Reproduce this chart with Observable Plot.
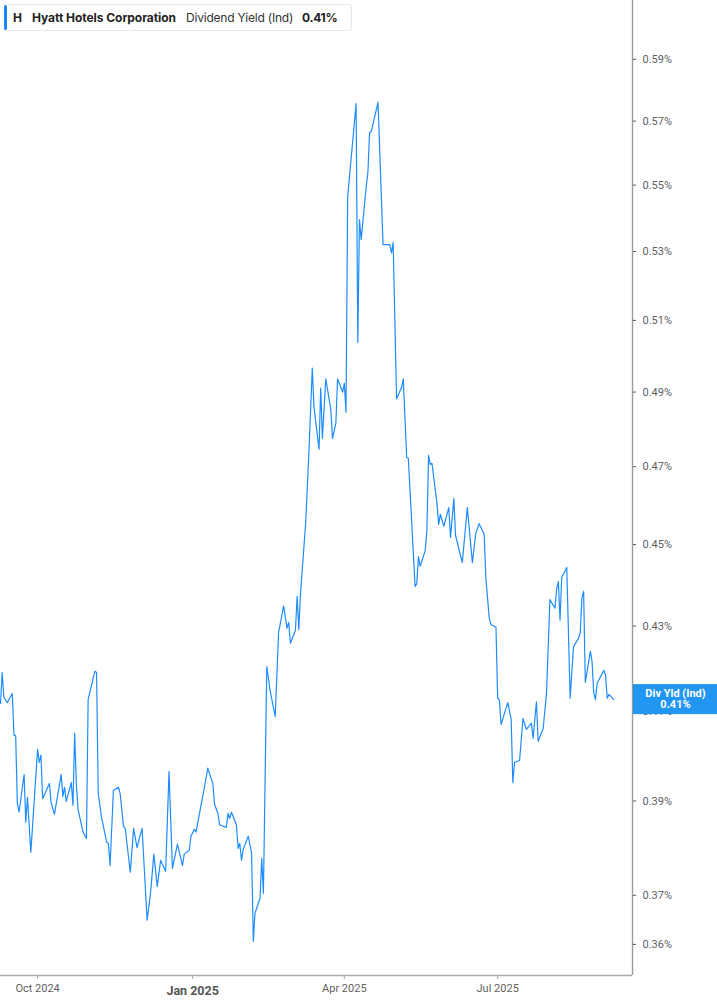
<!DOCTYPE html>
<html>
<head>
<meta charset="utf-8">
<script src="https://cdn.jsdelivr.net/npm/d3@7"></script>
<script src="https://cdn.jsdelivr.net/npm/@observablehq/plot@0.6"></script>
<style>
  html, body { margin: 0; padding: 0; background: #fff; }
  #wrap { position: relative; width: 717px; height: 1005px; overflow: hidden; }
  #legend { position: absolute; left: 4px; top: 4px; width: 346px; height: 25px; border: 1px solid #e8e8e8; border-radius: 3px; background: #fff; font-family: Inter, "Noto Sans", sans-serif; font-size: 12px; color: #222; }
  #legend .bar { position: absolute; left: -1px; top: 0px; width: 3px; height: 25px; background: #1e88f5; border-radius: 2px; }
  #legend span.t { position: absolute; top: 5px; white-space: nowrap; letter-spacing: -0.3px; }
</style>
</head>
<body>
<div id="wrap">
  <div id="chart"></div>
  <div id="legend">
    <div class="bar"></div>
    <span class="t" id="lgTicker" style="left:8px;font-weight:700"></span>
    <span class="t" id="lgName" style="left:27px;font-weight:700;letter-spacing:-0.05px"></span>
    <span class="t" id="lgMetric" style="left:181px;font-weight:400;color:#333;letter-spacing:-0.2px"></span>
    <span class="t" id="lgValue" style="left:297px;font-weight:700"></span>
  </div>
</div>
<script>
const ticker = "H";
const company = "Hyatt Hotels Corporation";
const metric = "Dividend Yield (Ind)";
const shortMetric = "Div Yld (Ind)";

const dates = [
"2024-09-09","2024-09-10","2024-09-11","2024-09-13","2024-09-16","2024-09-17","2024-09-18","2024-09-19","2024-09-20","2024-09-23",
"2024-09-24","2024-09-25","2024-09-27","2024-10-01","2024-10-02","2024-10-03","2024-10-04","2024-10-08","2024-10-09","2024-10-11",
"2024-10-15","2024-10-16","2024-10-17","2024-10-18","2024-10-21","2024-10-22","2024-10-23","2024-10-24","2024-10-25","2024-10-28",
"2024-10-30","2024-10-31","2024-11-04","2024-11-05","2024-11-06","2024-11-08","2024-11-11","2024-11-12","2024-11-13","2024-11-15",
"2024-11-18","2024-11-19","2024-11-21","2024-11-22","2024-11-25","2024-11-27","2024-11-29","2024-12-02","2024-12-05","2024-12-07",
"2024-12-09","2024-12-11","2024-12-13","2024-12-16","2024-12-18","2024-12-20","2024-12-23","2024-12-26","2024-12-27","2024-12-30",
"2024-12-31","2025-01-02","2025-01-03","2025-01-06","2025-01-08","2025-01-10","2025-01-13","2025-01-14","2025-01-16","2025-01-17",
"2025-01-21","2025-01-22","2025-01-23","2025-01-24","2025-01-27","2025-01-28","2025-01-29","2025-01-30","2025-01-31","2025-02-03",
"2025-02-05","2025-02-06","2025-02-07","2025-02-10","2025-02-11","2025-02-12","2025-02-14","2025-02-16","2025-02-19","2025-02-21",
"2025-02-24","2025-02-26","2025-02-27","2025-02-28","2025-03-03","2025-03-04","2025-03-05","2025-03-06","2025-03-09","2025-03-11",
"2025-03-13","2025-03-14","2025-03-17","2025-03-18","2025-03-19","2025-03-21","2025-03-24","2025-03-25","2025-03-27","2025-03-28",
"2025-03-31","2025-04-01","2025-04-02","2025-04-03","2025-04-08","2025-04-09","2025-04-10","2025-04-11","2025-04-14","2025-04-15",
"2025-04-16","2025-04-17","2025-04-21","2025-04-24","2025-04-28","2025-04-29","2025-04-30","2025-05-02","2025-05-05","2025-05-06",
"2025-05-08","2025-05-09","2025-05-13","2025-05-14","2025-05-15","2025-05-16","2025-05-19","2025-05-20","2025-05-21","2025-05-22",
"2025-05-23","2025-05-26","2025-05-27","2025-05-28","2025-05-30","2025-06-02","2025-06-03","2025-06-05","2025-06-06","2025-06-10",
"2025-06-13","2025-06-16","2025-06-18","2025-06-20","2025-06-23","2025-06-24","2025-06-26","2025-06-27","2025-06-30","2025-07-01",
"2025-07-02","2025-07-03","2025-07-07","2025-07-09","2025-07-10","2025-07-11","2025-07-14","2025-07-16","2025-07-18","2025-07-21",
"2025-07-22","2025-07-24","2025-07-25","2025-07-28","2025-07-30","2025-08-01","2025-08-04","2025-08-05","2025-08-06","2025-08-07",
"2025-08-08","2025-08-11","2025-08-13","2025-08-15","2025-08-18","2025-08-19","2025-08-20","2025-08-21","2025-08-22","2025-08-25",
"2025-08-26","2025-08-27","2025-08-28","2025-08-29","2025-09-02","2025-09-03","2025-09-04","2025-09-05","2025-09-08"
];

const yields = [
0.4118,0.4190,0.4132,0.4120,0.4141,0.4046,0.4045,0.3895,0.3876,0.3958,
0.3854,0.3908,0.3790,0.4014,0.3985,0.4001,0.3905,0.3938,0.3897,0.3871,
0.3958,0.3910,0.3930,0.3899,0.3940,0.3891,0.4050,0.3938,0.3882,0.3833,
0.3819,0.4127,0.4193,0.4190,0.3916,0.3864,0.3811,0.3809,0.3762,0.3923,
0.3930,0.3916,0.3845,0.3841,0.3748,0.3841,0.3800,0.3841,0.3649,0.3704,
0.3786,0.3718,0.3773,0.3750,0.3965,0.3756,0.3807,0.3762,0.3786,0.3794,
0.3824,0.3839,0.3833,0.3891,0.3930,0.3972,0.3938,0.3893,0.3873,0.3848,
0.3843,0.3873,0.3862,0.3876,0.3848,0.3798,0.3809,0.3773,0.3796,0.3824,
0.3788,0.3606,0.3663,0.3694,0.3777,0.3704,0.4204,0.4148,0.4088,0.4285,
0.4348,0.4295,0.4309,0.4259,0.4290,0.4372,0.4292,0.4379,0.4549,0.4738,
0.4966,0.4859,0.4746,0.4911,0.4775,0.4936,0.4853,0.4775,0.4816,0.4936,
0.4900,0.4924,0.4845,0.5465,0.5756,0.5038,0.5395,0.5335,0.5495,0.5539,
0.5664,0.5667,0.5760,0.5320,0.5320,0.5296,0.5326,0.4881,0.4913,0.4936,
0.4725,0.4722,0.4396,0.4403,0.4470,0.4446,0.4485,0.4536,0.4730,0.4706,
0.4709,0.4604,0.4551,0.4577,0.4546,0.4594,0.4518,0.4617,0.4523,0.4455,
0.4594,0.4455,0.4528,0.4553,0.4526,0.4416,0.4319,0.4304,0.4297,0.4130,
0.4127,0.4070,0.4120,0.4082,0.3940,0.3985,0.3989,0.4084,0.4059,0.4073,
0.4039,0.4122,0.4032,0.4061,0.4143,0.4364,0.4343,0.4391,0.4408,0.4314,
0.4418,0.4443,0.4130,0.4251,0.4271,0.4285,0.4369,0.4384,0.4167,0.4240,
0.4216,0.4143,0.4127,0.4165,0.4195,0.4184,0.4130,0.4139,0.4127
];

const yTicks = [0.36, 0.37, 0.39, 0.41, 0.43, 0.45, 0.47, 0.49, 0.51, 0.53, 0.55, 0.57, 0.59];
const xTicks = ["2024-10-01", "2025-04-01", "2025-07-01"];
const xBoldTicks = ["2025-01-01"];
const xDomain = ["2024-09-09", "2025-09-19"];
const yDomain = [0.3538, 0.6097];

const data = dates.map((d, i) => ({date: new Date(d + "T00:00:00Z"), value: yields[i]}));
const last = data[data.length - 1];
const fmtPct = v => v.toFixed(2) + "%";
const fmtMonth = d3.utcFormat("%b %Y");

const plot = Plot.plot({
  width: 717,
  height: 1005,
  marginLeft: 0,
  marginRight: 85,
  marginTop: 0,
  marginBottom: 30,
  style: {fontFamily: "Roboto, 'Liberation Sans', sans-serif", fontSize: "11px", background: "#fff"},
  x: {type: "utc", domain: xDomain.map(d => new Date(d + "T00:00:00Z"))},
  y: {type: "log", domain: yDomain},
  marks: [
    Plot.ruleY([yDomain[0]], {stroke: "#aaaaaa", strokeWidth: 1.6}),
    Plot.ruleX([new Date(xDomain[1] + "T00:00:00Z")], {stroke: "#999999", strokeWidth: 1.4}),
    Plot.axisY({anchor: "right", ticks: yTicks, tickFormat: fmtPct, tickSize: 3, tickPadding: 7, label: null, stroke: "#555", fill: "#5f5f5f", fontSize: 11}),
    Plot.axisX({ticks: xTicks.map(d => new Date(d + "T00:00:00Z")), tickFormat: fmtMonth, tickSize: 4, tickPadding: 5, label: null, stroke: "#aaa", fill: "#5f5f5f", fontSize: 11}),
    Plot.axisX({ticks: xBoldTicks.map(d => new Date(d + "T00:00:00Z")), tickFormat: fmtMonth, tickSize: 4, tickPadding: 7, label: null, stroke: "#aaa", fill: "#555", fontSize: 12.5, fontWeight: "bold"}),
    Plot.line(data, {x: "date", y: "value", stroke: "#1e8cff", strokeWidth: 1.2})
  ]
});

document.getElementById("chart").appendChild(plot);

// last-value label box on the right axis
const svg = d3.select(plot);
const yPos = plot.scale("y").apply(last.value);
const xRight = plot.scale("x").apply(new Date(xDomain[1] + "T00:00:00Z"));
const g = svg.append("g");
g.append("rect").attr("x", xRight + 1).attr("y", yPos - 15).attr("width", 717 - xRight).attr("height", 30).attr("fill", "#2196f3");
g.append("text").attr("x", (xRight + 717) / 2 + 1).attr("y", yPos - 5).attr("text-anchor", "middle").attr("dominant-baseline", "middle")
  .attr("fill", "#fff").attr("font-weight", "bold").attr("font-size", 11).attr("font-family", "Roboto, sans-serif").text(shortMetric);
g.append("text").attr("x", (xRight + 717) / 2 + 1).attr("y", yPos + 6).attr("text-anchor", "middle").attr("dominant-baseline", "middle")
  .attr("fill", "#fff").attr("font-weight", "bold").attr("font-size", 11).attr("font-family", "Roboto, sans-serif").text(fmtPct(last.value));

document.getElementById("lgTicker").textContent = ticker;
document.getElementById("lgName").textContent = company;
document.getElementById("lgMetric").textContent = metric;
document.getElementById("lgValue").textContent = fmtPct(last.value);
</script>
</body>
</html>
